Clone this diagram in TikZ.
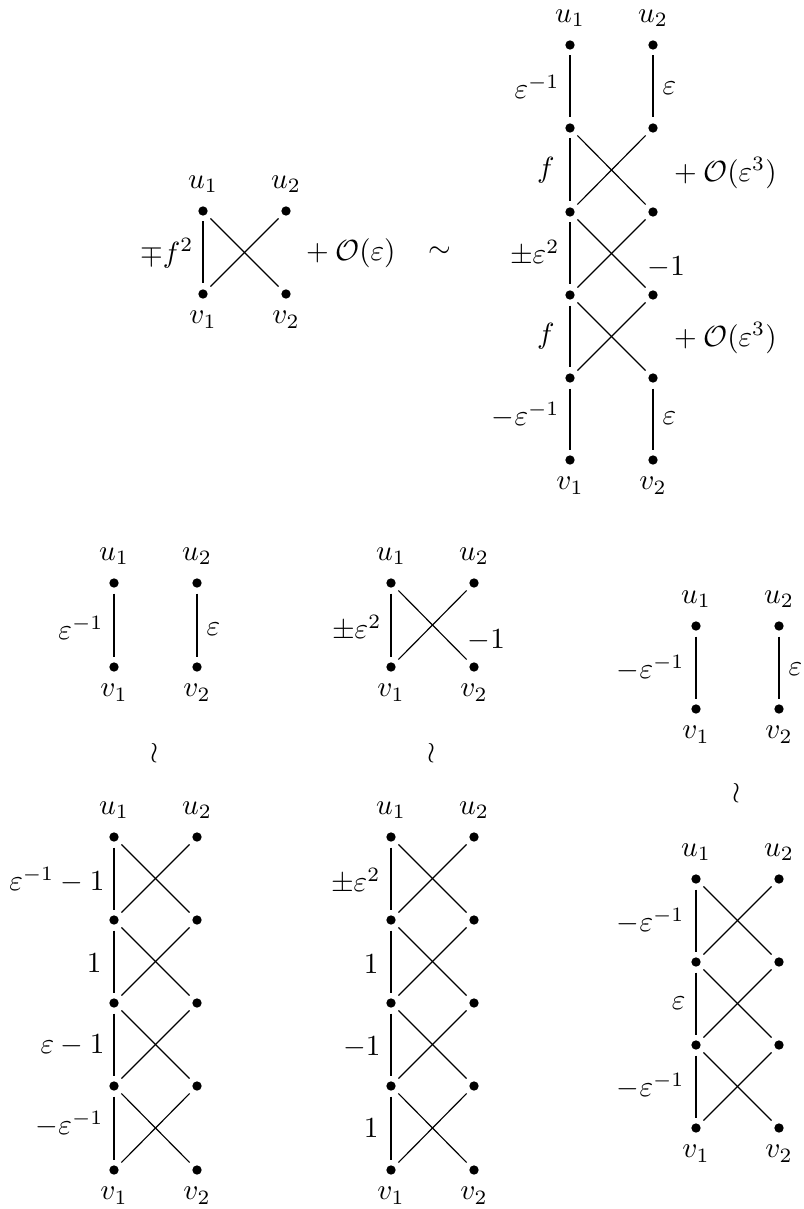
\documentclass[tikz,border=0pt]{standalone}
\begin{document}
\begin{tikzpicture}[x=0.3428pt,y=-0.3428pt,
  vtx/.style={circle, inner sep=0pt, minimum size=6.8pt,
    path picture={\fill (path picture bounding box.center) circle (1.6pt);}},
  ulab/.style={anchor=south, inner sep=2.4pt},
  vlab/.style={anchor=north, inner sep=2.1pt},
  llab/.style={anchor=east, inner sep=0pt},
  rlab/.style={anchor=west, inner sep=0pt},
  clab/.style={inner sep=0pt},
  conn/.style={line width=0.4pt}]
\useasboundingbox (0,0) rectangle (804,1209);

% ---------- Diagram A (top left) ----------
\node[vtx] (Au1) at (203,211) {};
\node[vtx] (Au2) at (286,211) {};
\node[vtx] (Av1) at (203,294) {};
\node[vtx] (Av2) at (286,294) {};
\path (Au1.north) node[ulab] (Alu1) {$u_1$};
\path (Au2.north) node[ulab] (Alu2) {$u_2$};
\path (Av1.south) node[vlab] (Alv1) {$v_1$};
\path (Av2.south) node[vlab] (Alv2) {$v_2$};
\draw[conn] (Au1) -- (Av1);
\draw[conn] (Au1) -- (Av2);
\draw[conn] (Au2) -- (Av1);
\node[llab] (Af) at (194,253) {$\mp f^2$};
\node[rlab] (AO) at (299,253) {${}+\mathcal{O}(\varepsilon)$};
\node[clab] (Asim) at (440,252) {$\sim$};

% ---------- Diagram B (top right tower) ----------
\foreach \i/\y in {0/45,1/128,2/212,3/295,4/378,5/460}{
  \node[vtx] (BL\i) at (570,\y) {};
  \node[vtx] (BR\i) at (653,\y) {};
}
\path (BL0.north) node[ulab] (Blu1) {$u_1$};
\path (BR0.north) node[ulab] (Blu2) {$u_2$};
\path (BL5.south) node[vlab] (Blv1) {$v_1$};
\path (BR5.south) node[vlab] (Blv2) {$v_2$};
\draw[conn] (BL0) -- (BL1);
\draw[conn] (BR0) -- (BR1);
\foreach \i in {1,2,3}{
  \pgfmathtruncatemacro\j{\i+1}
  \draw[conn] (BL\i) -- (BL\j);
  \draw[conn] (BL\i) -- (BR\j);
  \draw[conn] (BR\i) -- (BL\j);
}
\draw[conn] (BL4) -- (BL5);
\draw[conn] (BR4) -- (BR5);
\node[llab] (Bl1) at (560,87) {$\varepsilon^{-1}$};
\node[rlab] (Br1) at (662,88) {$\varepsilon$};
\node[llab] (Bl2) at (555,170) {$f$};
\node[rlab] (Br2) at (667,173) {${}+\mathcal{O}(\varepsilon^3)$};
\node[llab] (Bl3) at (560,253) {$\pm\varepsilon^2$};
\node[rlab] (Br3) at (647,267) {$-1$};
\node[llab] (Bl4) at (555,336) {$f$};
\node[rlab] (Br4) at (667,338) {${}+\mathcal{O}(\varepsilon^3)$};
\node[llab] (Bl5) at (560,415) {$-\varepsilon^{-1}$};
\node[rlab] (Br5) at (662,418) {$\varepsilon$};

% ---------- Diagram C ----------
\node[vtx] (Cu1) at (114,583) {};
\node[vtx] (Cu2) at (197,583) {};
\node[vtx] (Cv1) at (114,667) {};
\node[vtx] (Cv2) at (197,667) {};
\path (Cu1.north) node[ulab] (Clu1) {$u_1$};
\path (Cu2.north) node[ulab] (Clu2) {$u_2$};
\path (Cv1.south) node[vlab] (Clv1) {$v_1$};
\path (Cv2.south) node[vlab] (Clv2) {$v_2$};
\draw[conn] (Cu1) -- (Cv1);
\draw[conn] (Cu2) -- (Cv2);
\node[llab] (Cl) at (104,628) {$\varepsilon^{-1}$};
\node[rlab] (Cr) at (206,629) {$\varepsilon$};

% ---------- Diagram D ----------
\node[vtx] (Du1) at (391,583) {};
\node[vtx] (Du2) at (474,583) {};
\node[vtx] (Dv1) at (391,667) {};
\node[vtx] (Dv2) at (474,667) {};
\path (Du1.north) node[ulab] (Dlu1) {$u_1$};
\path (Du2.north) node[ulab] (Dlu2) {$u_2$};
\path (Dv1.south) node[vlab] (Dlv1) {$v_1$};
\path (Dv2.south) node[vlab] (Dlv2) {$v_2$};
\draw[conn] (Du1) -- (Dv1);
\draw[conn] (Du1) -- (Dv2);
\draw[conn] (Du2) -- (Dv1);
\node[llab] (Dl) at (382,628) {$\pm\varepsilon^2$};
\node[rlab] (Dr) at (467,640) {$-1$};

% ---------- Diagram E ----------
\node[vtx] (Eu1) at (696,626) {};
\node[vtx] (Eu2) at (779,626) {};
\node[vtx] (Ev1) at (696,709) {};
\node[vtx] (Ev2) at (779,709) {};
\path (Eu1.north) node[ulab] (Elu1) {$u_1$};
\path (Eu2.north) node[ulab] (Elu2) {$u_2$};
\path (Ev1.south) node[vlab] (Elv1) {$v_1$};
\path (Ev2.south) node[vlab] (Elv2) {$v_2$};
\draw[conn] (Eu1) -- (Ev1);
\draw[conn] (Eu2) -- (Ev2);
\node[llab] (El) at (685,668) {$-\varepsilon^{-1}$};
\node[rlab] (Er) at (788,669) {$\varepsilon$};

% ---------- wreath symbols ----------
\node[clab] (W1) at (155,753) {$\wr$};
\node[clab] (W2) at (432,753) {$\wr$};
\node[clab] (W3) at (737,793) {$\wr$};

% ---------- Diagrams F and G (bottom towers) ----------
\foreach \i/\y in {0/837,1/920,2/1003,3/1086,4/1170}{
  \node[vtx] (FL\i) at (114,\y) {};
  \node[vtx] (FR\i) at (197,\y) {};
  \node[vtx] (GL\i) at (391,\y) {};
  \node[vtx] (GR\i) at (474,\y) {};
}
\foreach \i in {0,1,2,3}{
  \pgfmathtruncatemacro\j{\i+1}
  \draw[conn] (FL\i) -- (FL\j);
  \draw[conn] (FL\i) -- (FR\j);
  \draw[conn] (FR\i) -- (FL\j);
  \draw[conn] (GL\i) -- (GL\j);
  \draw[conn] (GL\i) -- (GR\j);
  \draw[conn] (GR\i) -- (GL\j);
}
\path (FL0.north) node[ulab] (Flu1) {$u_1$};
\path (FR0.north) node[ulab] (Flu2) {$u_2$};
\path (FL4.south) node[vlab] (Flv1) {$v_1$};
\path (FR4.south) node[vlab] (Flv2) {$v_2$};
\path (GL0.north) node[ulab] (Glu1) {$u_1$};
\path (GR0.north) node[ulab] (Glu2) {$u_2$};
\path (GL4.south) node[vlab] (Glv1) {$v_1$};
\path (GR4.south) node[vlab] (Glv2) {$v_2$};
\node[llab] (Fl1) at (105,880) {$\varepsilon^{-1}-1$};
\node[llab] (Fl2) at (102,963) {$1$};
\node[llab] (Fl3) at (105,1045) {$\varepsilon-1$};
\node[llab] (Fl4) at (104,1124) {$-\varepsilon^{-1}$};
\node[llab] (Gl1) at (381,881) {$\pm\varepsilon^2$};
\node[llab] (Gl2) at (379,964) {$1$};
\node[llab] (Gl3) at (381,1047) {$-1$};
\node[llab] (Gl4) at (379,1128) {$1$};

% ---------- Diagram H (bottom right tower) ----------
\foreach \i/\y in {0/879,1/962,2/1045,3/1128}{
  \node[vtx] (HL\i) at (696,\y) {};
  \node[vtx] (HR\i) at (779,\y) {};
}
\foreach \i in {0,1,2}{
  \pgfmathtruncatemacro\j{\i+1}
  \draw[conn] (HL\i) -- (HL\j);
  \draw[conn] (HL\i) -- (HR\j);
  \draw[conn] (HR\i) -- (HL\j);
}
\path (HL0.north) node[ulab] (Hlu1) {$u_1$};
\path (HR0.north) node[ulab] (Hlu2) {$u_2$};
\path (HL3.south) node[vlab] (Hlv1) {$v_1$};
\path (HR3.south) node[vlab] (Hlv2) {$v_2$};
\node[llab] (Hl1) at (685,921) {$-\varepsilon^{-1}$};
\node[llab] (Hl2) at (686,1003) {$\varepsilon$};
\node[llab] (Hl3) at (685,1086) {$-\varepsilon^{-1}$};
\end{tikzpicture}
\end{document}
